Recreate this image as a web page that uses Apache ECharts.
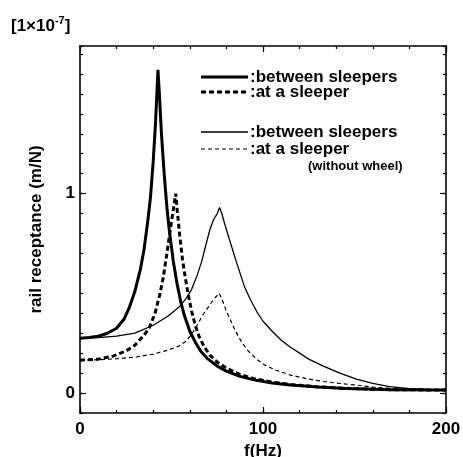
<!DOCTYPE html>
<html>
<head>
<meta charset="utf-8">
<script src="https://cdn.jsdelivr.net/npm/echarts@6/dist/echarts.min.js"></script>
<style>html,body{margin:0;padding:0;background:#fff}#c{width:463px;height:457px}</style>
</head>
<body>
<div id="c"></div>
<script>
// ---- data ----
// between sleepers, with wheel (thick solid)
const freqA = [0, 5, 10, 15, 20, 24, 27, 30, 33, 35, 37, 38.5, 40, 41.3, 42.6, 43.5, 44.5, 46, 47.5, 49, 51, 53, 55, 57, 60, 63, 66, 70, 75, 80, 87, 95, 105, 115, 130, 145, 170, 200];
const valA  = [0.275, 0.278, 0.285, 0.30, 0.325, 0.37, 0.43, 0.51, 0.62, 0.72, 0.86, 0.98, 1.16, 1.36, 1.62, 1.48, 1.30, 1.10, 0.93, 0.80, 0.66, 0.55, 0.46, 0.39, 0.31, 0.255, 0.21, 0.17, 0.135, 0.11, 0.085, 0.066, 0.05, 0.04, 0.03, 0.023, 0.017, 0.015];
// at a sleeper, with wheel (thick dotted)
const freqB = [0, 10, 18, 25, 30, 35, 38, 41, 43.5, 45.5, 47.5, 49.5, 51, 52.3, 53.3, 54.5, 56, 57.5, 59, 61, 63, 65, 68, 71, 75, 80, 87, 95, 105, 115, 130, 145, 170, 200];
const valB  = [0.165, 0.17, 0.185, 0.21, 0.24, 0.29, 0.33, 0.40, 0.49, 0.58, 0.70, 0.83, 0.92, 1.0, 0.90, 0.79, 0.67, 0.58, 0.50, 0.41, 0.34, 0.285, 0.23, 0.19, 0.155, 0.125, 0.095, 0.072, 0.055, 0.043, 0.031, 0.024, 0.017, 0.015];
// between sleepers, without wheel (thin solid)
const freqC = [0, 10, 20, 30, 40, 48, 54, 58, 61, 64, 66.5, 69, 71, 73, 75, 76.3, 77.5, 79, 81, 83, 85, 87.5, 90, 93, 96.5, 100, 105, 110, 115, 120, 125, 133, 142, 151, 160, 169, 180, 190, 200];
const valC  = [0.275, 0.278, 0.285, 0.30, 0.34, 0.385, 0.43, 0.475, 0.52, 0.59, 0.66, 0.75, 0.82, 0.87, 0.90, 0.93, 0.90, 0.85, 0.79, 0.73, 0.67, 0.60, 0.53, 0.47, 0.41, 0.36, 0.31, 0.265, 0.23, 0.20, 0.17, 0.135, 0.10, 0.07, 0.048, 0.032, 0.022, 0.018, 0.015];
// at a sleeper, without wheel (thin dashed)
const freqD = [0, 10, 20, 30, 40, 48, 54, 58, 61, 64, 67, 70, 73, 76.1, 78, 80, 82, 84.5, 87.4, 91, 96.5, 101, 107, 115, 125, 133, 142, 151, 160, 169, 185, 200];
const valD  = [0.165, 0.167, 0.172, 0.18, 0.195, 0.215, 0.235, 0.26, 0.295, 0.34, 0.39, 0.43, 0.47, 0.50, 0.46, 0.41, 0.37, 0.32, 0.27, 0.22, 0.17, 0.14, 0.115, 0.09, 0.07, 0.058, 0.048, 0.04, 0.03, 0.023, 0.017, 0.015];

const xLabels = [0, 100, 200];
const yLabels = [0, 1];
const yMajor = [0, 1];

const legendItems = [':between sleepers', ':at a sleeper', ':between sleepers', ':at a sleeper'];
const legendNote = '(without wheel)';

// ---- chart ----
const FONT = 'Liberation Sans';
const chart = echarts.init(document.getElementById('c'), null, {renderer: 'canvas'});
const pairs = (f, v) => f.map((x, i) => [x, v[i]]);
const YMIN = -0.1, YMAX = 1.74;
const near = (v, arr) => arr.some(a => Math.abs(a - v) < 1e-6);
const lineBase = {type: 'line', showSymbol: false, symbol: 'none', animation: false, xAxisIndex: 0, yAxisIndex: 0};

const tickStyle = {color: '#000', width: 1.2};
function xAx(pos, interval, len, showLine, showLabel) {
  return {
    type: 'value', position: pos, min: 0, max: 200, interval: interval,
    axisLine: {show: showLine, onZero: false, lineStyle: {color: '#000', width: 1.6}},
    axisTick: {show: true, inside: true, length: len, lineStyle: tickStyle},
    axisLabel: showLabel ? {show: true, margin: 8, color: '#000', fontFamily: FONT, fontWeight: 'bold', fontSize: 17,
      formatter: v => near(v, xLabels) ? String(v) : ''} : {show: false},
    splitLine: {show: false}
  };
}
function yAx(pos, len, showLine, showLabel, custom) {
  const a = {
    type: 'value', position: pos, min: YMIN, max: YMAX,
    axisLine: {show: showLine, onZero: false, lineStyle: {color: '#000', width: 1.6}},
    axisTick: {show: true, inside: true, length: len, lineStyle: tickStyle},
    axisLabel: showLabel ? {show: true, margin: 5, color: '#000', fontFamily: FONT, fontWeight: 'bold', fontSize: 17,
      formatter: v => near(v, yLabels) ? String(Math.round(v)) : ''} : {show: false},
    splitLine: {show: false}
  };
  if (custom) { a.axisTick.customValues = custom; a.axisLabel = {show: false}; }
  else { a.interval = 0.1; }
  return a;
}

const xAxes = [xAx('bottom', 20, 3, true, true), xAx('bottom', 100, 6, false, false), xAx('top', 20, 3, true, false), xAx('top', 100, 6, false, false)];
xAxes[0].name = 'f(Hz)';
xAxes[0].nameLocation = 'middle';
xAxes[0].nameGap = 27;
xAxes[0].nameTextStyle = {color: '#000', fontFamily: FONT, fontWeight: 'bold', fontSize: 17};

const yAxes = [yAx('left', 3, true, true), yAx('left', 6, false, false, yMajor), yAx('right', 3, true, false), yAx('right', 6, false, false, yMajor)];
yAxes[0].name = 'rail receptance (m/N)';
yAxes[0].nameLocation = 'middle';
yAxes[0].nameGap = 35;
yAxes[0].nameRotate = 90;
yAxes[0].nameTextStyle = {color: '#000', fontFamily: FONT, fontWeight: 'bold', fontSize: 17};

// legend drawn as graphics
const LX0 = 201, LX1 = 248, TX = 250;
const legendRows = [77, 92, 132, 149];
const legendStyles = [
  {lineWidth: 3, lineDash: null},
  {lineWidth: 3, lineDash: [5, 3]},
  {lineWidth: 1.3, lineDash: null},
  {lineWidth: 1.2, lineDash: [4, 3]}
];
const graphics = [];
legendRows.forEach((y, i) => {
  graphics.push({type: 'line', shape: {x1: LX0, y1: y, x2: LX1, y2: y},
    style: {stroke: '#000', lineWidth: legendStyles[i].lineWidth, lineDash: legendStyles[i].lineDash}});
  graphics.push({type: 'text', x: TX, y: y, style: {text: legendItems[i], fill: '#000',
    font: 'bold 17px "' + FONT + '"', verticalAlign: 'middle'}});
});
graphics.push({type: 'text', x: 308, y: 166, style: {text: legendNote, fill: '#000',
  font: 'bold 13px "' + FONT + '"', verticalAlign: 'middle'}});
graphics.push({type: 'text', x: 11, y: 25, style: {
  text: '{a|[1×10}{s|-7}{a|]}', verticalAlign: 'middle',
  rich: {
    a: {fontFamily: FONT, fontWeight: 'bold', fontSize: 17, fill: '#000', verticalAlign: 'bottom'},
    s: {fontFamily: FONT, fontWeight: 'bold', fontSize: 11, fill: '#000', verticalAlign: 'top', padding: [0, 0, 8, 0]}
  }}});

chart.setOption({
  backgroundColor: '#fff',
  animation: false,
  grid: {left: 80, top: 46, right: 17, bottom: 44, containLabel: false, outerBoundsMode: 'none'},
  xAxis: xAxes,
  yAxis: yAxes,
  graphic: graphics,
  series: [
    Object.assign({}, lineBase, {name: 'A', data: pairs(freqA, valA), lineStyle: {color: '#000', width: 3}, z: 4}),
    Object.assign({}, lineBase, {name: 'B', data: pairs(freqB, valB), lineStyle: {color: '#000', width: 3, type: [5, 3]}, z: 3}),
    Object.assign({}, lineBase, {name: 'C', data: pairs(freqC, valC), lineStyle: {color: '#000', width: 1.3}, z: 2}),
    Object.assign({}, lineBase, {name: 'D', data: pairs(freqD, valD), lineStyle: {color: '#000', width: 1.2, type: [4, 3]}, z: 2})
  ]
});
</script>
</body>
</html>
